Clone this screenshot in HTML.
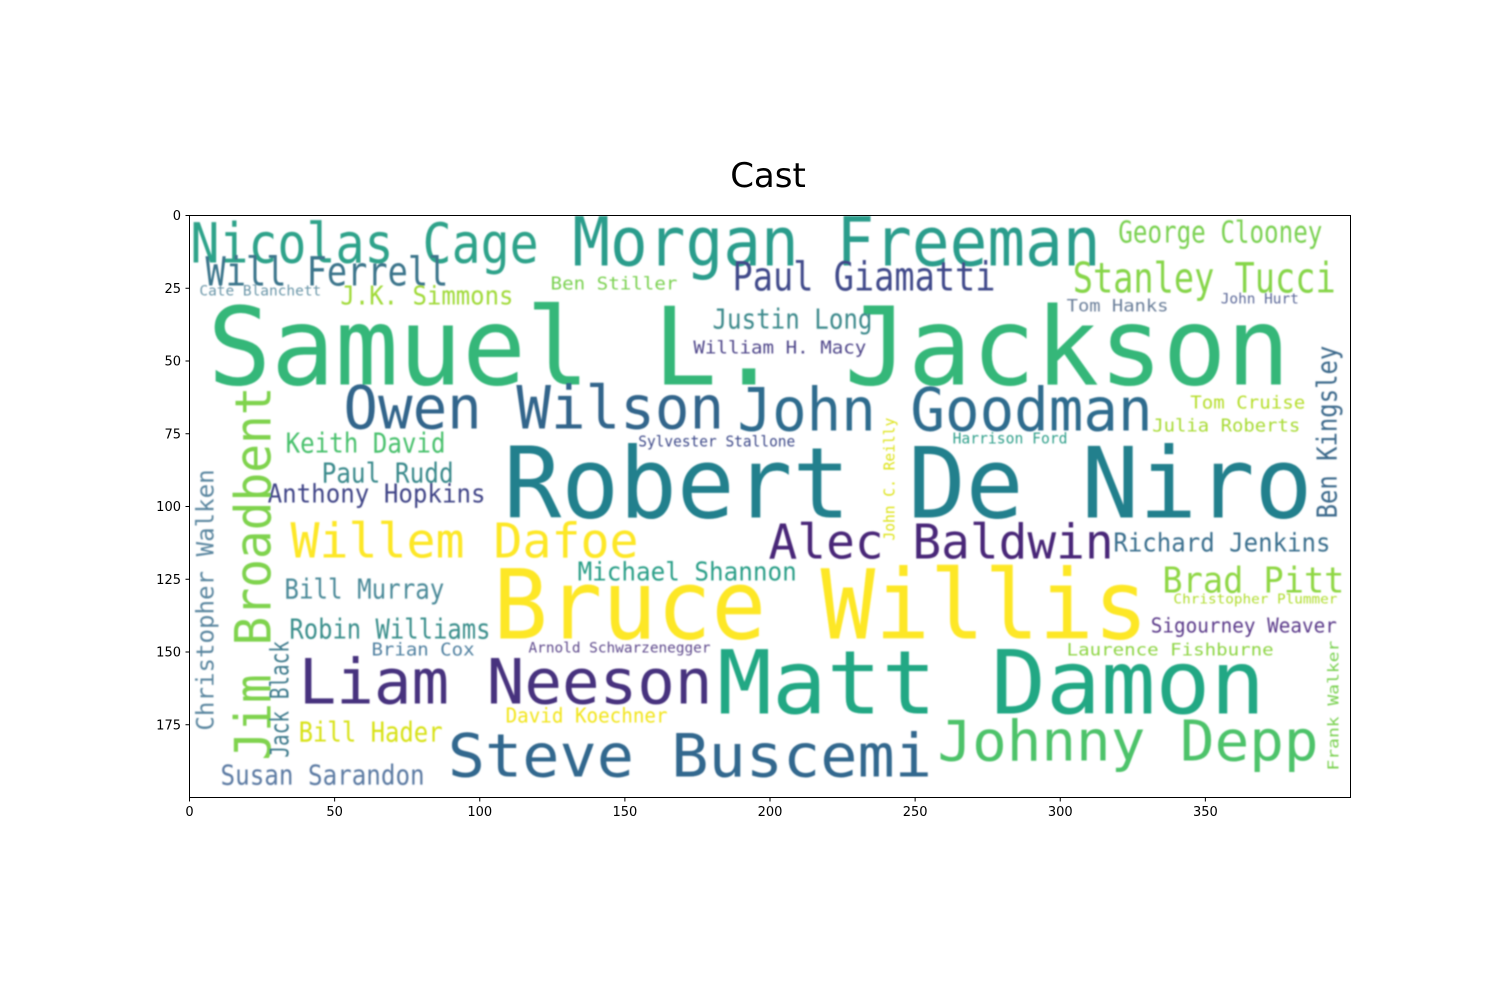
<!DOCTYPE html>
<html><head><meta charset="utf-8"><style>
html,body{margin:0;padding:0;background:#fff;}
svg text{font-family:"DejaVu Sans Mono","Liberation Mono",monospace;}
.t{font-family:"DejaVu Sans","Liberation Sans",sans-serif !important;}
</style></head><body>
<svg id="chart" width="1500" height="1000" xmlns="http://www.w3.org/2000/svg">
<defs><filter id="bl"><feGaussianBlur stdDeviation="0.7"/></filter></defs>
<text class="t" x="768" y="187" font-size="34" text-anchor="middle">Cast</text>
<g id="words" filter="url(#bl)"></g>
<rect x="189.5" y="215.5" width="1161" height="582" fill="none" stroke="#000" stroke-width="1"/>
<g id="xt"></g>
<g id="yt"></g>
</svg>
<script>
const words=["Nicolas Cage","Morgan Freeman","George Clooney","Will Ferrell","Paul Giamatti","Stanley Tucci","Cate Blanchett","J.K. Simmons","Ben Stiller","Tom Hanks","John Hurt","Samuel L. Jackson","Justin Long","William H. Macy","Owen Wilson","John Goodman","Tom Cruise","Julia Roberts","Keith David","Sylvester Stallone","Harrison Ford","Robert De Niro","Paul Rudd","Anthony Hopkins","Willem Dafoe","Alec Baldwin","Richard Jenkins","Michael Shannon","Bill Murray","Brad Pitt","Christopher Plummer","Bruce Willis","Robin Williams","Sigourney Weaver","Brian Cox","Arnold Schwarzenegger","Laurence Fishburne","Liam Neeson","Matt Damon","David Koechner","Bill Hader","Johnny Depp","Steve Buscemi","Susan Sarandon","Ben Kingsley","Jim Broadbent","John C. Reilly","Christopher Walken","Jack Black","Frank Walker"];
const wx=[0.3,131.9,320,5.5,187.1,304.3,3.4,52,124.4,302.2,355.3,6.2,180.2,173.6,53,188.8,344.8,331.7,33.1,154.6,262.9,108.2,45.5,26.9,34.8,199.5,318.3,133.7,32.7,335.2,339,104.6,34.4,331.2,62.7,116.8,302.2,37.6,181.8,108.9,37.6,257.7,89.0,10.7,395.2,27.9,242.9,8.3,34.1,395.9];
const wy=[16.2,17.2,9.3,24.1,25.8,26.5,27.5,30.6,25.4,33,30.2,58.1,38.8,47.4,73.2,73.9,66.3,74.2,81.4,79.4,78.4,103.8,91.8,98.6,117.5,117.9,115.5,125.4,131.6,129.6,133.3,145.4,145.4,143.3,151.2,150.2,151.2,167.7,171.1,174.2,180.8,187.3,192.8,195.5,104.1,187.3,111.7,177,186.3,190.7];
const wlen=[120,182,70.3,83.7,90.6,90.6,42,59.6,43.7,35.1,26.9,373,55.1,59.6,131.2,143,39.6,51,55.1,54.1,39.6,278.7,45.5,75.1,119.9,118.9,74.8,75.5,55.1,62.7,56.5,225.7,69.3,64.1,35.5,62.7,71.3,142.6,188.8,55.8,49.6,131.3,166.8,70.3,59.5,128.9,42.3,90,40.2,44.7];
const wsize=[19,23.4,10.3,13.8,13.8,14.5,4.8,9,6.2,5.9,4.8,37.2,9.6,6.2,20.7,20.7,6.2,6.2,9.6,5.2,5.2,33.8,9.6,9,16.5,16.5,9,9,9.6,12.4,4.5,33.1,9.6,6.9,6.2,4.8,5.9,21.4,30.3,6.9,9.6,19.3,20.7,9.6,9.6,17.2,5.2,8.3,9,5.2];
const wvert=[0,0,0,0,0,0,0,0,0,0,0,0,0,0,0,0,0,0,0,0,0,0,0,0,0,0,0,0,0,0,0,0,0,0,0,0,0,0,0,0,0,0,0,0,1,1,1,1,1,1];
const wcolor=["#2ea38a","#2a9d8c","#7ad151","#3b758b","#3f4a8a","#86d549","#6a96a8","#a0da39","#7ad151","#6b7f9a","#5d6a9a","#35b779","#3d8a8c","#50468a","#33658b","#2f6c8e","#b5de2b","#a8db34","#4ac16d","#3e4989","#2e9f8a","#21808d","#3a8a8c","#414487","#fde725","#482878","#3b6f8e","#2a9f88","#4b8a99","#8fd744","#b0dd2f","#fde725","#3b8f8c","#5b3a8a","#5080a0","#5e4a8c","#8ed545","#46307e","#22a884","#f2e51d","#d8e219","#4ec36b","#31688e","#5b7aa3","#3e6a8c","#7fd34e","#dde318","#5b87a0","#3e7a8c","#7ad151"];
const xTicks=[0,50,100,150,200,250,300,350];
const yTicks=[0,25,50,75,100,125,150,175];
const X0=189.5,Y0=215.5,KX=1161/400,KY=582/200;
const sx=d=>X0+d*KX, sy=d=>Y0+d*KY;
const NS="http://www.w3.org/2000/svg";
const g=document.getElementById('words');
words.forEach((w,i)=>{
  const t=document.createElementNS(NS,'text');
  
  
  const x=sx(wx[i]),y=sy(wy[i]);
  t.setAttribute('x',x);t.setAttribute('y',y);
  t.setAttribute('font-size',wsize[i]*KX);
  t.setAttribute('fill',wcolor[i]);
  t.setAttribute('textLength',wlen[i]*KX);
  t.setAttribute('lengthAdjust','spacingAndGlyphs');
  if(wvert[i]) t.setAttribute('transform','rotate(-90 '+x+' '+y+')');
  t.textContent=w;g.appendChild(t);
});
const xt=document.getElementById('xt');
xTicks.forEach(v=>{
  const l=document.createElementNS(NS,'line');
  
  
  l.setAttribute('x1',sx(v));l.setAttribute('x2',sx(v));l.setAttribute('y1',797.5);l.setAttribute('y2',801.5);l.setAttribute('stroke','#000');
  xt.appendChild(l);
  const t=document.createElementNS(NS,'text');
  
  
  t.setAttribute('class','t');t.setAttribute('x',sx(v));t.setAttribute('y',816);t.setAttribute('font-size',13);t.setAttribute('text-anchor','middle');
  t.textContent=v;xt.appendChild(t);
});
const yt=document.getElementById('yt');
yTicks.forEach(v=>{
  const l=document.createElementNS(NS,'line');
  
  
  l.setAttribute('x1',185.5);l.setAttribute('x2',189.5);l.setAttribute('y1',sy(v));l.setAttribute('y2',sy(v));l.setAttribute('stroke','#000');
  yt.appendChild(l);
  const t=document.createElementNS(NS,'text');
  
  
  t.setAttribute('class','t');t.setAttribute('x',181);t.setAttribute('y',sy(v)+4.5);t.setAttribute('font-size',13);t.setAttribute('text-anchor','end');
  t.textContent=v;yt.appendChild(t);
});
</script>
</body></html>
